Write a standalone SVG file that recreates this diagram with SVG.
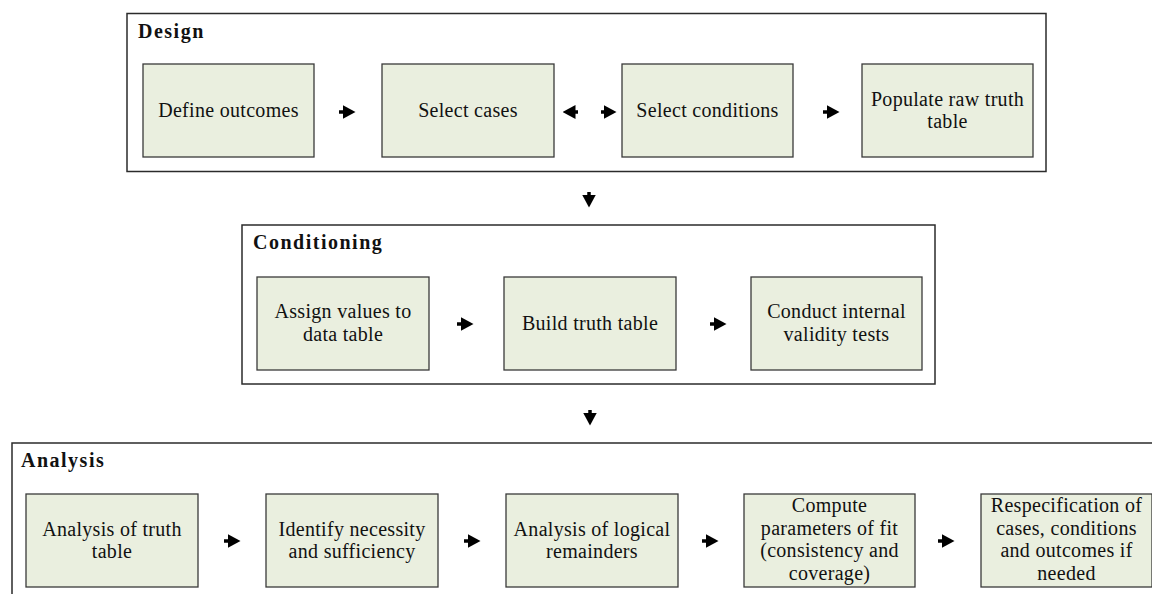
<svg xmlns="http://www.w3.org/2000/svg" width="1152" height="594" viewBox="0 0 1152 594">
  <style>
    .frame { fill: #ffffff; stroke: #2b2b2b; stroke-width: 1.5; }
    .box { fill: #eaefdf; stroke: #3a3a3a; stroke-width: 1.3; }
    .title { font-family: "Liberation Serif", "Times New Roman", serif; font-size: 20px; font-weight: bold; letter-spacing: 1.5px; fill: #111111; }
    .label { font-family: "Liberation Serif", "Times New Roman", serif; font-size: 20px; letter-spacing: 0.3px; fill: #111111; text-anchor: middle; }
    .conn { fill: none; stroke: #000000; stroke-width: 3.5; }
  </style>
  <defs>
    <marker id="head" viewBox="0 0 13 14" refX="0.5" refY="7" markerWidth="13" markerHeight="14" markerUnits="userSpaceOnUse" orient="auto-start-reverse">
      <path d="M0,0 L13,7 L0,14 Z" fill="#000000"/>
    </marker>
  </defs>

  <rect width="1152" height="594" fill="#ffffff"/>

  <!-- Stage frames -->
  <g id="design">
    <rect class="frame" x="127" y="13.5" width="919" height="158"/>
    <text class="title" x="138" y="38">Design</text>
  </g>
  <g id="conditioning">
    <rect class="frame" x="242" y="225" width="693" height="159"/>
    <text class="title" x="253" y="249">Conditioning</text>
  </g>
  <g id="analysis">
    <rect class="frame" x="12" y="443" width="1160" height="170"/>
    <text class="title" x="21" y="467">Analysis</text>
  </g>

  <!-- Design steps -->
  <g id="define-outcomes">
    <rect class="box" x="143" y="64" width="171" height="93"/>
    <text class="label" x="228.5" y="117">Define outcomes</text>
  </g>
  <g id="select-cases">
    <rect class="box" x="382" y="64" width="172" height="93"/>
    <text class="label" x="468" y="117">Select cases</text>
  </g>
  <g id="select-conditions">
    <rect class="box" x="622" y="64" width="171" height="93"/>
    <text class="label" x="707.5" y="117">Select conditions</text>
  </g>
  <g id="populate-raw-truth-table">
    <rect class="box" x="862" y="64" width="171" height="93"/>
    <text class="label" x="947.5" y="106">Populate raw truth</text>
    <text class="label" x="947.5" y="128">table</text>
  </g>

  <!-- Conditioning steps -->
  <g id="assign-values">
    <rect class="box" x="257" y="277" width="172" height="93"/>
    <text class="label" x="343" y="318">Assign values to</text>
    <text class="label" x="343" y="340.5">data table</text>
  </g>
  <g id="build-truth-table">
    <rect class="box" x="504" y="277" width="172" height="93"/>
    <text class="label" x="590" y="330">Build truth table</text>
  </g>
  <g id="internal-validity">
    <rect class="box" x="751" y="277" width="171" height="93"/>
    <text class="label" x="836.5" y="318">Conduct internal</text>
    <text class="label" x="836.5" y="340.5">validity tests</text>
  </g>

  <!-- Analysis steps -->
  <g id="truth-table-analysis">
    <rect class="box" x="26" y="494" width="172" height="93"/>
    <text class="label" x="112" y="535.5">Analysis of truth</text>
    <text class="label" x="112" y="558">table</text>
  </g>
  <g id="necessity-sufficiency">
    <rect class="box" x="266" y="494" width="172" height="93"/>
    <text class="label" x="352" y="535.5">Identify necessity</text>
    <text class="label" x="352" y="558">and sufficiency</text>
  </g>
  <g id="logical-remainders">
    <rect class="box" x="506" y="494" width="172" height="93"/>
    <text class="label" x="592" y="535.5">Analysis of logical</text>
    <text class="label" x="592" y="558">remainders</text>
  </g>
  <g id="parameters-of-fit">
    <rect class="box" x="744" y="494" width="171" height="93"/>
    <text class="label" x="829.5" y="512">Compute</text>
    <text class="label" x="829.5" y="534.5">parameters of fit</text>
    <text class="label" x="829.5" y="557">(consistency and</text>
    <text class="label" x="829.5" y="579.5">coverage)</text>
  </g>
  <g id="respecification">
    <rect class="box" x="981" y="494" width="171" height="93"/>
    <text class="label" x="1066.5" y="512">Respecification of</text>
    <text class="label" x="1066.5" y="534.5">cases, conditions</text>
    <text class="label" x="1066.5" y="557">and outcomes if</text>
    <text class="label" x="1066.5" y="579.5">needed</text>
  </g>

  <!-- Connectors -->
  <g id="connectors">
    <path class="conn" d="M339,112 H343" marker-end="url(#head)"/>
    <path class="conn" d="M575,112 H604" stroke-dasharray="3 23 3" marker-start="url(#head)" marker-end="url(#head)"/>
    <path class="conn" d="M823,112 H827" marker-end="url(#head)"/>
    <path class="conn" d="M589,192 V195" marker-end="url(#head)"/>
    <path class="conn" d="M457,324 H461" marker-end="url(#head)"/>
    <path class="conn" d="M710,324 H714" marker-end="url(#head)"/>
    <path class="conn" d="M590,410 V413" marker-end="url(#head)"/>
    <path class="conn" d="M224,541 H228" marker-end="url(#head)"/>
    <path class="conn" d="M464,541 H468" marker-end="url(#head)"/>
    <path class="conn" d="M702,541 H706" marker-end="url(#head)"/>
    <path class="conn" d="M938,541 H942" marker-end="url(#head)"/>
  </g>
</svg>
